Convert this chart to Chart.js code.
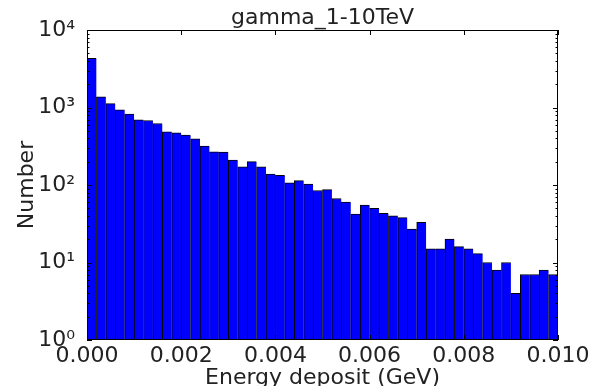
<!DOCTYPE html>
<html>
<head>
<meta charset="utf-8">
<script src="https://cdn.jsdelivr.net/npm/chart.js@4.4.0/dist/chart.umd.min.js"></script>
<style>
  html, body { margin: 0; padding: 0; background: #fff; }
</style>
</head>
<body>
<canvas id="hist" width="594" height="386"></canvas>
<script>
// ---- data: energy deposit histogram, 50 bins of 0.0002 GeV ----
const binWidth = 0.0002;
const counts = [
    4300, 1370, 1120, 935, 820, 695, 680, 622, 486, 472,
    440, 395, 318, 268, 265, 210, 172, 200, 172, 138,
    133, 107, 114, 103, 85, 87, 67, 60, 42, 55,
    50, 43, 40, 38, 27, 33, 15, 15, 20, 16,
    15, 13, 10, 8, 10, 4, 7, 7, 8, 7
];
const xTickValues = [0, 0.002, 0.004, 0.006, 0.008, 0.010];
const yTickValues = [1, 10, 100, 1000, 10000];
const yTickLabels = ['10⁰', '10¹', '10²', '10³', '10⁴'];
const chartTitle = 'gamma_1-10TeV';
const xTitle = 'Energy deposit (GeV)';
const yTitle = 'Number';

const FONT = 'DejaVu Sans';
const TEXT = '#222';

// frame + inward ticks, matplotlib style
const frameTicks = {
    id: 'frameTicks',
    afterDatasetsDraw(chart) {
        const { ctx, chartArea: a, scales: { x, y } } = chart;
        ctx.save();
        ctx.strokeStyle = '#000';
        ctx.lineWidth = 1;
        ctx.beginPath();
        xTickValues.forEach(v => {
            const px = Math.round(x.getPixelForValue(v)) + 0.5;
            ctx.moveTo(px, a.bottom); ctx.lineTo(px, a.bottom - 5);
            ctx.moveTo(px, a.top); ctx.lineTo(px, a.top + 5);
        });
        yTickValues.forEach((d, i) => {
            for (let m = 1; m < 10; m++) {
                if (m > 1 && i === yTickValues.length - 1) break;
                const py = Math.round(y.getPixelForValue(d * m)) + 0.5;
                const len = m === 1 ? 5 : 2.5;
                ctx.moveTo(a.left, py); ctx.lineTo(a.left + len, py);
                ctx.moveTo(a.right, py); ctx.lineTo(a.right - len, py);
            }
        });
        ctx.stroke();
        ctx.strokeRect(a.left + 0.5, a.top + 0.5, a.width - 1, a.height - 1);
        ctx.restore();
    }
};

new Chart(document.getElementById('hist'), {
    type: 'bar',
    data: {
        datasets: [{
            data: counts.map((c, i) => ({ x: (i + 0.5) * binWidth, y: c })),
            backgroundColor: '#0000ff',
            borderColor: '#000',
            borderWidth: { left: 1, top: 1, right: 0, bottom: 0 },
            borderSkipped: false,
            barPercentage: 1,
            categoryPercentage: 1,
            grouped: false
        }]
    },
    options: {
        responsive: false,
        animation: false,
        layout: { padding: { left: 0, right: 36, top: 0, bottom: 0 } },
        plugins: {
            legend: { display: false },
            tooltip: { enabled: false }
        },
        scales: {
            x: {
                type: 'linear',
                position: 'bottom',
                min: 0,
                max: 0.01,
                offset: false,
                grid: { display: false, offset: false },
                border: { display: false },
                afterBuildTicks: s => { s.ticks = xTickValues.map(v => ({ value: v })); },
                ticks: {
                    autoSkip: false,
                    maxRotation: 0,
                    padding: -3,
                    color: TEXT,
                    font: { family: FONT, size: 22, lineHeight: 1 },
                    callback: v => v.toFixed(3)
                },
                title: {
                    display: true,
                    text: xTitle,
                    color: TEXT,
                    font: { family: FONT, size: 22, lineHeight: 0.7 },
                    padding: { top: 0, bottom: 0 }
                },
                afterFit: s => { s.height = 46; }
            },
            x2: {
                type: 'linear',
                position: 'top',
                min: 0,
                max: 0.01,
                offset: false,
                grid: { display: false },
                border: { display: false },
                ticks: { display: false },
                title: {
                    display: true,
                    text: chartTitle,
                    color: TEXT,
                    font: { family: FONT, size: 22, lineHeight: 1 },
                    padding: { top: 7.5, bottom: 0 }
                },
                afterFit: s => { s.height = 30; }
            },
            y: {
                type: 'logarithmic',
                min: 1,
                max: 10000,
                grid: { display: false },
                border: { display: false },
                afterBuildTicks: s => { s.ticks = yTickValues.map(v => ({ value: v })); },
                ticks: {
                    autoSkip: false,
                    padding: 4,
                    color: TEXT,
                    font: { family: FONT, size: 22, lineHeight: 1 },
                    callback: v => yTickLabels[yTickValues.indexOf(v)]
                },
                title: {
                    display: true,
                    text: yTitle,
                    color: TEXT,
                    font: { family: FONT, size: 22, lineHeight: 1 },
                    padding: { top: 16, bottom: 0 }
                },
                afterFit: s => { s.width = 87; }
            }
        }
    },
    plugins: [frameTicks]
});
</script>
</body>
</html>
